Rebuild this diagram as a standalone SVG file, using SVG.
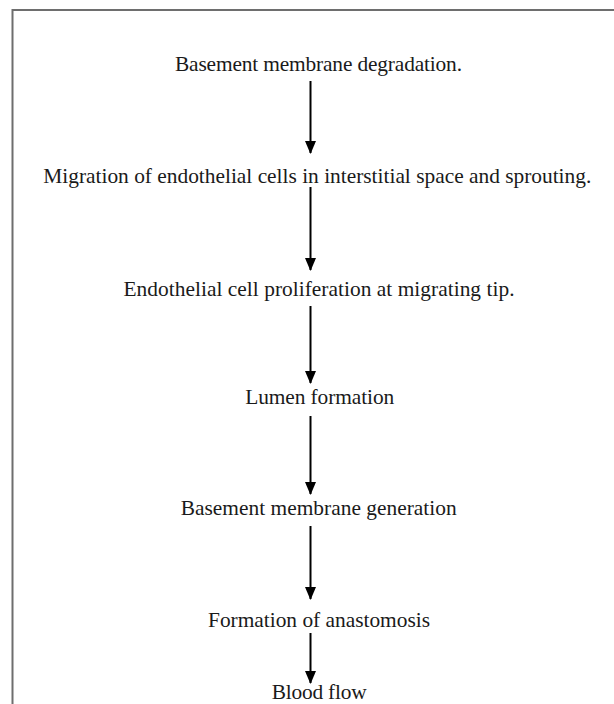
<svg xmlns="http://www.w3.org/2000/svg" width="614" height="704" viewBox="0 0 614 704">
  <style>
    .lbl { font-family: "Liberation Serif", "Times New Roman", serif; font-size: 21.4px; fill: #1a1a1a; text-anchor: middle; }
    .conn { stroke: #000; stroke-width: 2; fill: none; }
    .frame { stroke: #6e6e6e; stroke-width: 2; fill: none; }
  </style>
  <defs>
    <marker id="arrow" markerUnits="userSpaceOnUse" markerWidth="13" markerHeight="14" refX="12" refY="6" orient="auto">
      <path d="M0,0.5 L13,6 L0,11.5 Z" fill="#000"/>
    </marker>
  </defs>
  <rect width="614" height="704" fill="#fff"/>
  <g id="frame">
    <path class="frame" d="M12.5,704 L12.5,10 L614,10"/>
  </g>
  <g id="connectors">
    <line class="conn" x1="310.5" y1="81" x2="310.5" y2="153" marker-end="url(#arrow)"/>
    <line class="conn" x1="310.5" y1="187" x2="310.5" y2="270" marker-end="url(#arrow)"/>
    <line class="conn" x1="310.5" y1="306" x2="310.5" y2="383" marker-end="url(#arrow)"/>
    <line class="conn" x1="310.5" y1="416" x2="310.5" y2="494" marker-end="url(#arrow)"/>
    <line class="conn" x1="310.5" y1="526" x2="310.5" y2="599" marker-end="url(#arrow)"/>
    <line class="conn" x1="310.5" y1="633" x2="310.5" y2="683" marker-end="url(#arrow)"/>
  </g>
  <g id="n1"><text class="lbl" x="318.5" y="71" textLength="287" lengthAdjust="spacing">Basement membrane degradation.</text></g>
  <g id="n2"><text class="lbl" x="317.3" y="183" textLength="548" lengthAdjust="spacing">Migration of endothelial cells in interstitial space and sprouting.</text></g>
  <g id="n3"><text class="lbl" x="319" y="296" textLength="391" lengthAdjust="spacing">Endothelial cell proliferation at migrating tip.</text></g>
  <g id="n4"><text class="lbl" x="319.7" y="404" textLength="149" lengthAdjust="spacing">Lumen formation</text></g>
  <g id="n5"><text class="lbl" x="318.7" y="515" textLength="276" lengthAdjust="spacing">Basement membrane generation</text></g>
  <g id="n6"><text class="lbl" x="319" y="627" textLength="222" lengthAdjust="spacing">Formation of anastomosis</text></g>
  <g id="n7"><text class="lbl" x="319.2" y="699" textLength="95" lengthAdjust="spacing">Blood flow</text></g>
</svg>
